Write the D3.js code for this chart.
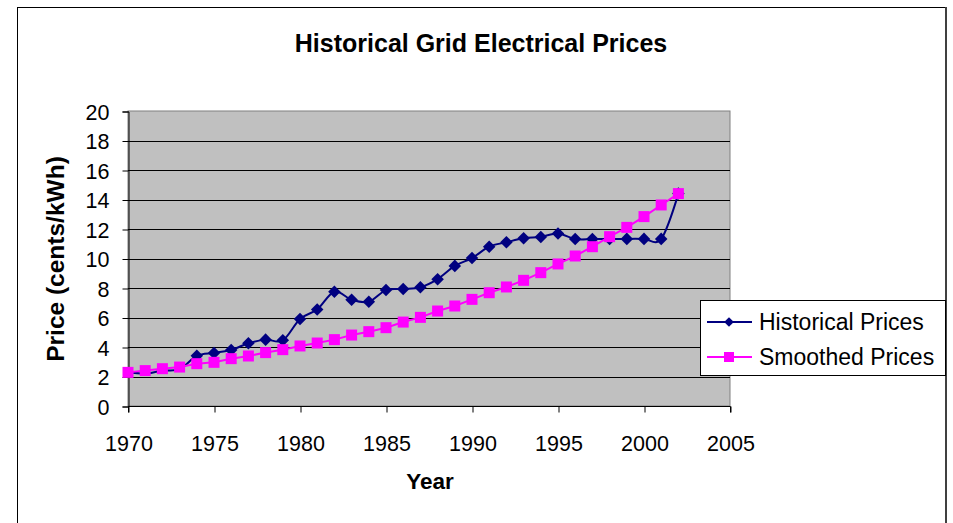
<!DOCTYPE html>
<html>
<head>
<meta charset="utf-8">
<script src="https://cdn.jsdelivr.net/npm/d3@7"></script>
<style>
    body { margin: 0; background: #fff; }
    text { font-family: "Liberation Sans", Arial, sans-serif; }
</style>
</head>
<body>
<div class="wrapper"></div>
<script>
let width = 953;
let height = 523;

// data
let years = d3.range(1970, 2003);
let historical = [2.3, 2.2, 2.4, 2.5, 3.4, 3.6, 3.8, 4.25, 4.5, 4.45, 5.9, 6.55, 7.75, 7.2, 7.07,
    7.86, 7.93, 8.05, 8.6, 9.5, 10.03, 10.8, 11.1, 11.37, 11.46, 11.7, 11.32, 11.32, 11.32,
    11.33, 11.33, 11.33, 14.4];
let smoothed = [2.28, 2.4, 2.53, 2.64, 2.87, 2.96, 3.21, 3.39, 3.62, 3.82, 4.07, 4.27, 4.5, 4.81,
    5.04, 5.31, 5.69, 6.01, 6.44, 6.78, 7.23, 7.68, 8.07, 8.52, 9.04, 9.63, 10.17, 10.8, 11.48,
    12.11, 12.84, 13.63, 14.4];
let xTicks = [1970, 1975, 1980, 1985, 1990, 1995, 2000, 2005];
let yTicks = [0, 2, 4, 6, 8, 10, 12, 14, 16, 18, 20];
let seriesNames = ["Historical Prices", "Smoothed Prices"];

let plot = {left: 128, top: 111, right: 730, bottom: 406};

let svg = d3.select(".wrapper")
    .append("svg")
    .attr("width", width)
    .attr("height", height);

// outer chart frame
svg.append("rect")
    .attr("x", 17.5).attr("y", 7.5)
    .attr("width", 928).attr("height", 530)
    .attr("fill", "#fff")
    .attr("stroke", "#000")
    .attr("stroke-width", 1);
svg.append("line")
    .attr("x1", 946).attr("x2", 946)
    .attr("y1", 7).attr("y2", height)
    .attr("stroke", "#404040")
    .attr("stroke-width", 2);

let x = d3.scaleLinear().domain([1970, 2005]).range([plot.left, plot.right]);
let y = d3.scaleLinear().domain([0, 20]).range([plot.bottom, plot.top]);

svg.append("rect")
    .attr("x", plot.left).attr("y", plot.top)
    .attr("width", plot.right - plot.left)
    .attr("height", plot.bottom - plot.top)
    .attr("fill", "#c0c0c0")
    .attr("stroke", "#808080")
    .attr("stroke-width", 1);

// gridlines
svg.selectAll(".grid")
    .data(yTicks.filter(d => d > 0 && d < 20))
    .enter()
    .append("line")
    .classed("grid", true)
    .attr("x1", plot.left).attr("x2", plot.right)
    .attr("y1", d => Math.round(y(d)) + 0.5)
    .attr("y2", d => Math.round(y(d)) + 0.5)
    .attr("stroke", "#000")
    .attr("stroke-width", 1);

// axes
let yAxis = svg.append("g")
    .attr("transform", "translate(" + (plot.left + 0.5) + ",0.5)")
    .call(d3.axisLeft(y).tickValues(yTicks).tickSize(6).tickPadding(13).tickFormat(d3.format("d")));
let xAxis = svg.append("g")
    .attr("transform", "translate(0.5," + (plot.bottom + 0.5) + ")")
    .call(d3.axisBottom(x).tickValues(xTicks).tickSize(6).tickPadding(23).tickFormat(d3.format("d")));

[yAxis, xAxis].forEach(a => {
    a.select(".domain").attr("stroke", "#000");
    a.selectAll(".tick line").attr("stroke", "#000");
    a.selectAll(".tick text")
        .attr("fill", "#000")
        .style("font-size", "21.5px")
        .style("font-family", "'Liberation Sans', Arial, sans-serif");
});
xAxis.select(".domain").attr("d", "M" + plot.left + ",6V0H" + plot.right + "V6");
yAxis.selectAll(".tick text").attr("dy", "0.36em");

// titles
svg.append("text")
    .attr("x", 481).attr("y", 52)
    .attr("text-anchor", "middle")
    .style("font-size", "25px")
    .style("font-weight", "bold")
    .text("Historical Grid Electrical Prices");

svg.append("text")
    .attr("x", 430).attr("y", 489)
    .attr("text-anchor", "middle")
    .style("font-size", "22.5px")
    .style("font-weight", "bold")
    .text("Year");

svg.append("text")
    .attr("transform", "translate(64,259) rotate(-90)")
    .attr("text-anchor", "middle")
    .style("font-size", "24.5px")
    .style("font-weight", "bold")
    .text("Price (cents/kWh)");

// series
let histData = years.map((yr, i) => ({year: yr, value: historical[i]}));
let smoothData = years.map((yr, i) => ({year: yr, value: smoothed[i]}));

svg.append("path")
    .datum(histData)
    .attr("fill", "none")
    .attr("stroke", "#000080")
    .attr("stroke-width", 2)
    .attr("d", d3.line().curve(d3.curveCatmullRom.alpha(0)).x(d => x(d.year)).y(d => y(d.value)));

let diamond = d3.symbol().type(d3.symbolDiamond2).size(100);
svg.selectAll(".hist")
    .data(histData.filter(d => d.year >= 1974))
    .enter()
    .append("path")
    .classed("hist", true)
    .attr("d", diamond)
    .attr("transform", d => "translate(" + x(d.year) + "," + y(d.value) + ")")
    .attr("fill", "#000080");

svg.append("path")
    .datum(smoothData)
    .attr("fill", "none")
    .attr("stroke", "#ff00ff")
    .attr("stroke-width", 2)
    .attr("d", d3.line().x(d => x(d.year)).y(d => y(d.value)));

svg.selectAll(".smooth")
    .data(smoothData)
    .enter()
    .append("rect")
    .classed("smooth", true)
    .attr("x", d => x(d.year) - 5.5)
    .attr("y", d => y(d.value) - 5.5)
    .attr("width", 11).attr("height", 11)
    .attr("fill", "#ff00ff");

// legend
let legend = svg.append("g");
legend.append("rect")
    .attr("x", 700.5).attr("y", 300.5)
    .attr("width", 245).attr("height", 75)
    .attr("fill", "#fff")
    .attr("stroke", "#000");

let rows = legend.selectAll(".row")
    .data(seriesNames)
    .enter()
    .append("g")
    .classed("row", true)
    .attr("transform", (d, i) => "translate(0," + (322 + i * 35) + ")");

rows.append("line")
    .attr("x1", 707).attr("x2", 752)
    .attr("stroke", (d, i) => i === 0 ? "#000080" : "#ff00ff")
    .attr("stroke-width", 2);
rows.append("path")
    .attr("d", (d, i) => i === 0 ? d3.symbol().type(d3.symbolDiamond2).size(60)() : "M-5,-5H5V5H-5Z")
    .attr("transform", "translate(729,0)")
    .attr("fill", (d, i) => i === 0 ? "#000080" : "#ff00ff");
rows.append("text")
    .attr("x", 759).attr("dy", "0.36em")
    .style("font-size", "23px")
    .text(d => d);
</script>
</body>
</html>
